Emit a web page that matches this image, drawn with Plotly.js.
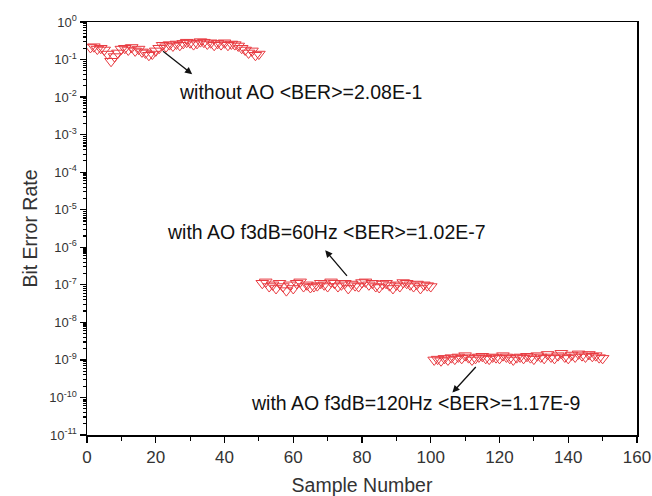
<!DOCTYPE html>
<html>
<head>
<meta charset="utf-8">
<script src="https://cdn.plot.ly/plotly-3.0.1.min.js"></script>
<style>html,body{margin:0;padding:0;background:#fff;}#chart{width:652px;height:496px;}</style>
</head>
<body>
<div id="chart"></div>
<script>
const xWithout = Array.from({length: 50}, (_, i) => i + 1);
const berWithout = [0.21,0.22,0.19,0.2,0.18,0.14,0.09,0.12,0.15,0.19,0.2,0.18,0.21,0.17,0.19,0.16,0.15,0.13,0.14,0.17,0.2,0.24,0.22,0.25,0.23,0.26,0.24,0.27,0.29,0.28,0.25,0.27,0.3,0.29,0.26,0.28,0.24,0.27,0.25,0.28,0.24,0.26,0.25,0.23,0.2,0.18,0.15,0.17,0.13,0.14];

const x60 = Array.from({length: 50}, (_, i) => i + 51);
const ber60 = [1.1e-7,1.2e-7,0.9e-7,1.0e-7,0.8e-7,1.1e-7,0.9e-7,0.7e-7,1.0e-7,0.8e-7,1.1e-7,1.2e-7,0.9e-7,1.0e-7,0.85e-7,0.9e-7,0.95e-7,1.1e-7,1.0e-7,0.9e-7,1.2e-7,1.1e-7,0.9e-7,1.0e-7,1.1e-7,0.8e-7,1.05e-7,0.95e-7,0.9e-7,1.15e-7,1.2e-7,1.0e-7,1.1e-7,0.9e-7,0.85e-7,1.05e-7,1.1e-7,0.95e-7,0.8e-7,1.0e-7,0.9e-7,1.15e-7,1.1e-7,1.0e-7,0.9e-7,1.05e-7,0.8e-7,1.0e-7,0.95e-7,0.9e-7];

const x120 = Array.from({length: 50}, (_, i) => i + 101);
const ber120 = [1.0e-9,1.05e-9,0.95e-9,1.1e-9,1.0e-9,1.15e-9,1.05e-9,1.2e-9,1.1e-9,1.3e-9,1.15e-9,1.0e-9,1.1e-9,1.2e-9,1.25e-9,1.1e-9,1.05e-9,1.2e-9,1.15e-9,1.1e-9,1.3e-9,1.2e-9,1.1e-9,1.0e-9,1.15e-9,1.2e-9,1.1e-9,1.25e-9,1.15e-9,1.05e-9,1.3e-9,1.2e-9,1.1e-9,1.4e-9,1.2e-9,1.1e-9,1.3e-9,1.5e-9,1.2e-9,1.1e-9,1.35e-9,1.2e-9,1.45e-9,1.3e-9,1.2e-9,1.4e-9,1.25e-9,1.3e-9,1.15e-9,1.1e-9];

const yTickVals = [1,1e-1,1e-2,1e-3,1e-4,1e-5,1e-6,1e-7,1e-8,1e-9,1e-10,1e-11];
const yTickText = ['10<sup>0</sup>','10<sup>-1</sup>','10<sup>-2</sup>','10<sup>-3</sup>','10<sup>-4</sup>','10<sup>-5</sup>','10<sup>-6</sup>','10<sup>-7</sup>','10<sup>-8</sup>','10<sup>-9</sup>','10<sup>-10</sup>','10<sup>-11</sup>'];

const labels = ['without AO &lt;BER&gt;=2.08E-1','with AO f3dB=60Hz &lt;BER&gt;=1.02E-7','with AO f3dB=120Hz &lt;BER&gt;=1.17E-9'];

const red = 'rgb(232,58,64)';
const mk = {symbol: 'triangle-down-open', size: 11, color: red, line: {width: 1, color: red}};

const traces = [
  {x: xWithout, y: berWithout, type: 'scatter', mode: 'markers', marker: mk},
  {x: x60, y: ber60, type: 'scatter', mode: 'markers', marker: mk},
  {x: x120, y: ber120, type: 'scatter', mode: 'markers', marker: mk}
];

const arrowStyle = {showarrow: true, arrowhead: 2, arrowsize: 1.1, arrowwidth: 1.3, arrowcolor: '#111', axref: 'x', ayref: 'y', text: ''};
const annFont = {size: 19.5, color: '#111', family: 'Liberation Sans, Arial, sans-serif'};

const layout = {
  width: 652, height: 496,
  margin: {l: 87, r: 15, t: 22, b: 61},
  paper_bgcolor: '#fff', plot_bgcolor: '#fff',
  showlegend: false,
  font: {family: 'Liberation Sans, Arial, sans-serif', color: '#222', size: 14},
  xaxis: {
    range: [0, 160], tickmode: 'linear', tick0: 0, dtick: 20,
    ticks: 'outside', ticklen: 6, tickwidth: 1.2, tickcolor: '#000',
    minor: {tickmode: 'linear', tick0: 0, dtick: 10, ticks: 'outside', ticklen: 4, tickcolor: '#000'},
    showline: true, linecolor: '#000', linewidth: 1.5, mirror: true,
    showgrid: false, zeroline: false, ticklabeloverflow: 'allow',
    tickfont: {size: 17, color: '#333'},
    title: {text: 'Sample Number', font: {size: 19.5, color: '#333'}, standoff: 13}
  },
  yaxis: {
    type: 'log', range: [-11, 0],
    tickmode: 'array', tickvals: yTickVals, ticktext: yTickText,
    ticks: 'outside', ticklen: 6, tickwidth: 1.2, tickcolor: '#000',
    minor: {dtick: 'D1', ticks: 'outside', ticklen: 3, tickcolor: '#000'},
    showline: true, linecolor: '#000', linewidth: 1.5, mirror: true,
    showgrid: false, zeroline: false,
    tickfont: {size: 13, color: '#333'},
    title: {text: 'Bit Error Rate', font: {size: 19.5, color: '#333'}, standoff: 6}
  },
  annotations: [
    Object.assign({}, arrowStyle, {x: 30.6, y: -1.39, ax: 21.7, ay: -0.75}),
    Object.assign({}, arrowStyle, {x: 69.3, y: -6.08, ax: 76, ay: -6.8}),
    Object.assign({}, arrowStyle, {x: 106.3, y: -9.87, ax: 113.5, ay: -9.15}),
    {x: 62.2, y: -1.87, text: labels[0], showarrow: false, font: annFont},
    {x: 69.6, y: -5.6, text: labels[1], showarrow: false, font: annFont},
    {x: 95.6, y: -10.16, text: labels[2], showarrow: false, font: annFont}
  ]
};

Plotly.newPlot('chart', traces, layout, {displayModeBar: false, staticPlot: true});
</script>
</body>
</html>
